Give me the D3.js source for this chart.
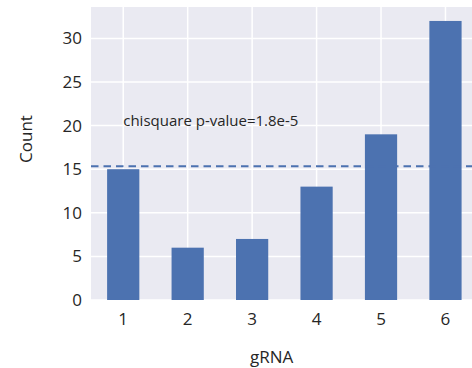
<!DOCTYPE html>
<html>
<head>
<meta charset="utf-8">
<script src="https://cdn.jsdelivr.net/npm/d3@7"></script>
<style>
  html, body { margin: 0; padding: 0; background: #fff; overflow: hidden; }
  svg { display: block; font-family: "Open Sans", "Noto Sans", sans-serif; }
</style>
</head>
<body>
<svg id="chart" width="472" height="368"></svg>
<script>
const categories = ["1", "2", "3", "4", "5", "6"];
const counts = [15, 6, 7, 13, 19, 32];
const yTicks = [0, 5, 10, 15, 20, 25, 30];
const meanLine = [15.33];
const annotation = ["chisquare p-value=1.8e-5"];
const xLabel = "gRNA";
const yLabel = "Count";

const svg = d3.select("#chart");
const mLeft = 91, mRight = 477.7, mTop = 7, mBottom = 300;

const x = d3.scaleBand().domain(categories).range([mLeft, mRight])
  .paddingInner(0.5).paddingOuter(0.25);
const y = d3.scaleLinear().domain([0, 33.6]).range([mBottom, mTop]);

// background
svg.append("rect").attr("x", mLeft).attr("y", mTop)
  .attr("width", mRight - mLeft).attr("height", mBottom - mTop)
  .attr("fill", "#EAEAF2");

// gridlines
svg.append("g").selectAll("line").data(yTicks).join("line")
  .attr("x1", mLeft).attr("x2", mRight)
  .attr("y1", d => y(d)).attr("y2", d => y(d))
  .attr("stroke", "#fff").attr("stroke-width", 1.5);
svg.append("g").selectAll("line").data(categories).join("line")
  .attr("x1", d => x(d) + x.bandwidth() / 2).attr("x2", d => x(d) + x.bandwidth() / 2)
  .attr("y1", mTop).attr("y2", mBottom)
  .attr("stroke", "#fff").attr("stroke-width", 1.5);

// bars
svg.append("g").selectAll("rect").data(counts).join("rect")
  .attr("x", (d, i) => x(categories[i]))
  .attr("width", x.bandwidth())
  .attr("y", d => y(d))
  .attr("height", d => y(0) - y(d))
  .attr("fill", "#4C72B0");

// mean dashed line
svg.append("g").selectAll("line").data(meanLine).join("line")
  .attr("x1", mLeft).attr("x2", mRight)
  .attr("y1", d => y(d)).attr("y2", d => y(d))
  .attr("stroke", "#4C72B0").attr("stroke-width", 2)
  .attr("stroke-dasharray", "7.5,5");

// annotation
svg.append("g").selectAll("text").data(annotation).join("text")
  .attr("x", x(categories[0]) + x.bandwidth() / 2)
  .attr("y", y(20))
  .attr("font-size", 15).attr("fill", "#262626")
  .text(d => d);

// y tick labels
svg.append("g").selectAll("text").data(yTicks).join("text")
  .attr("x", 82).attr("y", d => y(d) + 6)
  .attr("text-anchor", "end").attr("font-size", 17).attr("fill", "#262626")
  .text(d => d);

// x tick labels
svg.append("g").selectAll("text").data(categories).join("text")
  .attr("x", d => x(d) + x.bandwidth() / 2).attr("y", 325)
  .attr("text-anchor", "middle").attr("font-size", 17).attr("fill", "#262626")
  .text(d => d);

// axis labels
svg.append("text").attr("x", 271.7).attr("y", 363)
  .attr("text-anchor", "middle").attr("font-size", 17).attr("fill", "#262626")
  .text(xLabel);
svg.append("text").attr("transform", "translate(32,139) rotate(-90)")
  .attr("text-anchor", "middle").attr("font-size", 17).attr("fill", "#262626")
  .text(yLabel);
</script>
</body>
</html>
